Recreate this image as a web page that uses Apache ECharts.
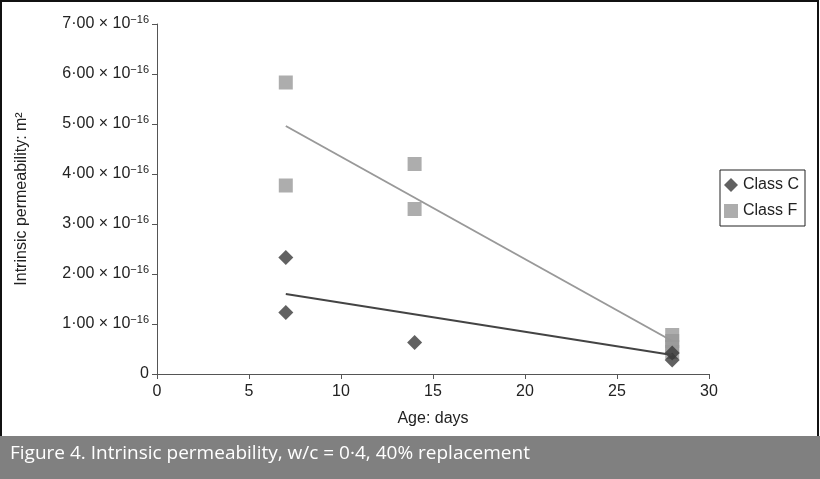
<!DOCTYPE html>
<html><head><meta charset="utf-8">
<script src="https://cdn.jsdelivr.net/npm/echarts@6/dist/echarts.min.js"></script>
<style>html,body{margin:0;padding:0;background:#fff}#c{width:820px;height:479px}</style>
</head><body><div id="c"></div>
<script>
var classC = [[7, 2.33], [7, 1.23], [14, 0.63], [28, 0.28], [28, 0.42]];
var classF = [[7, 5.83], [7, 3.77], [14, 4.2], [14, 3.3], [28, 0.78], [28, 0.66], [28, 0.54], [28, 0.44]];
var trendC = [[7, 1.6], [28, 0.38]];
var trendF = [[7, 4.96], [28, 0.66]];
var yTicks = ['0', '1·00', '2·00', '3·00', '4·00', '5·00', '6·00', '7·00'];

var chart = echarts.init(document.getElementById('c'));
var font = '"Liberation Sans", Arial, sans-serif';
chart.setOption({
    animation: false,
    graphic: [
        {type: 'rect', shape: {x: 1, y: 1, width: 817, height: 436}, style: {fill: 'none', stroke: '#111', lineWidth: 2}},
        {type: 'rect', shape: {x: 0, y: 436, width: 820, height: 43}, style: {fill: '#808080'}},
        {type: 'text', left: 10, top: 444, style: {text: 'Figure 4. Intrinsic permeability, w/c = 0·4, 40% replacement', fill: '#fff', font: '19px "Open Sans", sans-serif'}}
    ],
    grid: {left: 157, right: 111, top: 24, bottom: 105},
    legend: {
        orient: 'vertical', left: 720, top: 170, itemGap: 10,
        borderColor: '#222', borderWidth: 1, padding: [7, 6, 7, 4],
        itemWidth: 14, itemHeight: 14,
        textStyle: {fontFamily: font, fontSize: 16, color: '#222'},
        data: [{name: 'Class C', icon: 'diamond'}, {name: 'Class F', icon: 'rect'}]
    },
    xAxis: {
        type: 'value', min: 0, max: 30, interval: 5,
        name: 'Age: days', nameLocation: 'middle', nameGap: 37,
        nameTextStyle: {fontFamily: font, fontSize: 16, color: '#222'},
        axisLine: {lineStyle: {color: '#555'}},
        axisTick: {show: true, length: 5, lineStyle: {color: '#555'}},
        axisLabel: {fontFamily: font, fontSize: 16, color: '#222', margin: 10},
        splitLine: {show: false}
    },
    yAxis: {
        type: 'value', min: 0, max: 7, interval: 1,
        name: 'Intrinsic permeability: m²', nameLocation: 'middle', nameGap: 127,
        nameTextStyle: {fontFamily: font, fontSize: 16, color: '#222'},
        axisLine: {show: true, lineStyle: {color: '#555'}},
        axisTick: {show: true, length: 5, lineStyle: {color: '#555'}},
        axisLabel: {
            formatter: function (v) {
                var i = Math.round(v);
                return i === 0 ? '{b|0}' : '{b|' + yTicks[i] + ' × 10}{s|−16}';
            },
            rich: {
                b: {fontFamily: font, fontSize: 16, color: '#222'},
                s: {fontFamily: font, fontSize: 11, color: '#222', padding: [0, 0, 9, 0]}
            }
        },
        splitLine: {show: false}
    },
    series: [
        {name: 'Class C', type: 'scatter', symbol: 'diamond', symbolSize: 15, itemStyle: {color: '#3a3a3a'}, data: classC, z: 3},
        {name: 'Class F', type: 'scatter', symbol: 'rect', symbolSize: 14, itemStyle: {color: '#999'}, data: classF, z: 2},
        {type: 'line', symbol: 'none', data: trendC, lineStyle: {color: '#444', width: 2}, z: 4},
        {type: 'line', symbol: 'none', data: trendF, lineStyle: {color: '#999', width: 2}, z: 4}
    ]
});
</script></body></html>
